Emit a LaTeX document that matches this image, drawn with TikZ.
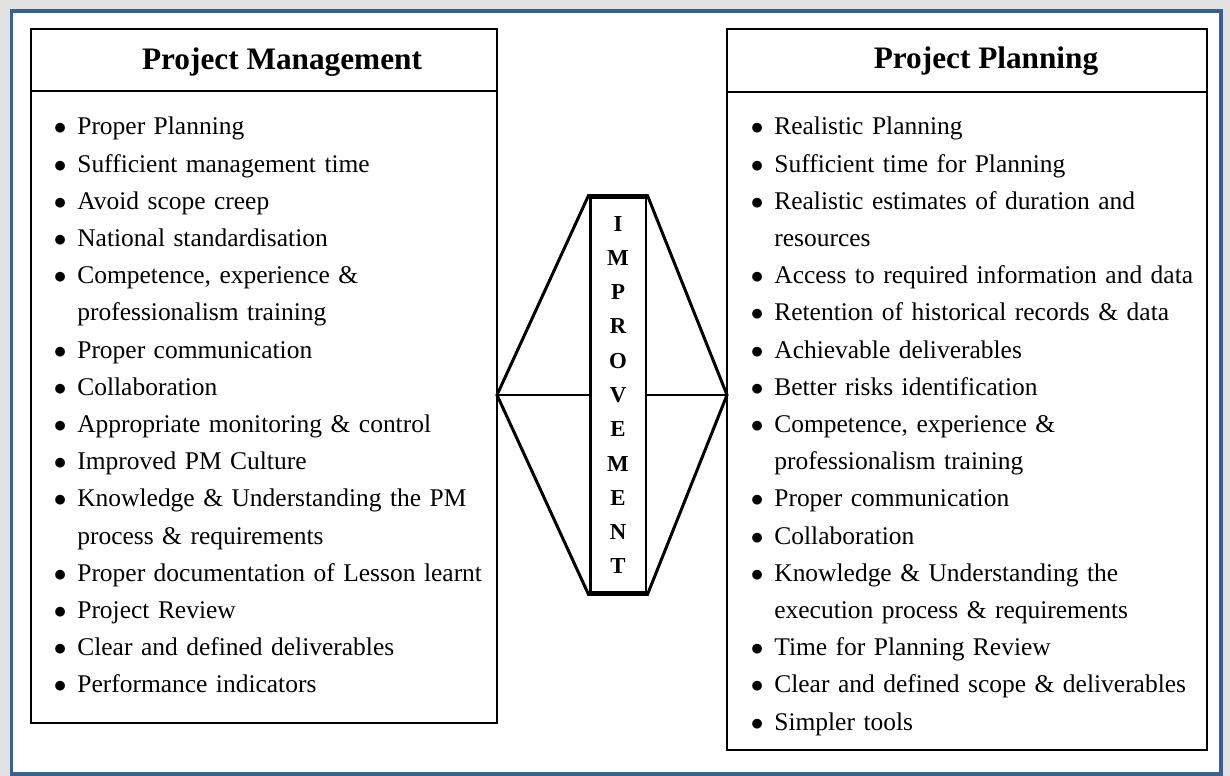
\documentclass[tikz,border=0pt]{standalone}
\usepackage{fontspec}
\setmainfont{Liberation Serif}
\usepackage{tikz}
\usetikzlibrary{positioning, calc}
\definecolor{FrameBlue}{HTML}{3C5F91}
\definecolor{ShadowGrey}{HTML}{E2E2E2}
\newcommand{\bul}{\makebox[0.47cm][l]{$\bullet$}}
\newcommand{\cont}{\hspace*{0.47cm}}
\tikzset{
    % Box styles
    listbox/.style={
        rectangle,
        draw=black,
        line width=0.9pt,
        inner sep=0pt
    },
    headtext/.style={
        inner sep=0pt,
        font=\bfseries\fontsize{17.8pt}{21pt}\selectfont
    },
    itemtext/.style={
        text width=9cm,
        align=left,
        inner sep=0pt,
        font=\fontsize{14.5pt}{21.17pt}\selectfont
    },
    wordbox/.style={
        rectangle,
        draw=black,
        line width=1.7pt,
        fill=white,
        minimum width=1.12cm,
        minimum height=7.92cm,
        align=center,
        inner sep=0pt,
        font=\bfseries\fontsize{13pt}{19.5pt}\selectfont
    },
    % Line style
    hexline/.style={
        draw=black,
        line width=1.7pt,
        line join=miter
    }
}

\begin{document}
\begin{tikzpicture}[x=0.02cm, y=-0.02cm]
    \useasboundingbox (0,0) rectangle (1230,776);
    % Frame
    \fill[ShadowGrey] (0,0) rectangle (1230,776);
    \draw[FrameBlue, line width=0.08cm, fill=white] (11.5,11) rectangle (1221,774);

    % Project Management
    \node[listbox, minimum width=9.32cm, minimum height=13.88cm] (pmbox) at (264,376) {};
    \node[listbox, minimum width=9.32cm, minimum height=1.24cm] (pmhead) at (264,60) {};
    \node[headtext, anchor=base] (pmtitle) at (282,70) {Project Management};
    \node[itemtext, anchor=base west] (pmlist) at (53.5,135) {
        \bul Proper Planning\\
        \bul Sufficient management time\\
        \bul Avoid scope creep\\
        \bul National standardisation\\
        \bul Competence, experience \&\\
        \cont professionalism training\\
        \bul Proper communication\\
        \bul Collaboration\\
        \bul Appropriate monitoring \& control\\
        \bul Improved PM Culture\\
        \bul Knowledge \& Understanding the PM\\
        \cont process \& requirements\\
        \bul Proper documentation of Lesson learnt\\
        \bul Project Review\\
        \bul Clear and defined deliverables\\
        \bul Performance indicators
    };

    % Project Planning
    \node[listbox, minimum width=9.6cm, minimum height=14.42cm] (ppbox) at (967,389.5) {};
    \node[listbox, minimum width=9.6cm, minimum height=1.26cm] (pphead) at (967,60.5) {};
    \node[headtext, anchor=base] (pptitle) at (986,69) {Project Planning};
    \node[itemtext, anchor=base west] (pplist) at (750.5,135) {
        \bul Realistic Planning\\
        \bul Sufficient time for Planning\\
        \bul Realistic estimates of duration and\\
        \cont resources\\
        \bul Access to required information and data\\
        \bul Retention of historical records \& data\\
        \bul Achievable deliverables\\
        \bul Better risks identification\\
        \bul Competence, experience \&\\
        \cont professionalism training\\
        \bul Proper communication\\
        \bul Collaboration\\
        \bul Knowledge \& Understanding the\\
        \cont execution process \& requirements\\
        \bul Time for Planning Review\\
        \bul Clear and defined scope \& deliverables\\
        \bul Simpler tools
    };

    % Improvement hexagon
    \coordinate (lpt) at (497,395);
    \coordinate (rpt) at (727,395);
    \node[wordbox] (imp) at (618,395) {I\\M\\P\\R\\O\\V\\E\\M\\E\\N\\T};
    \draw[hexline] (lpt) -- (imp.north west) -- (imp.north east) -- (rpt) -- (imp.south east) -- (imp.south west) -- cycle;
    \draw[hexline] (lpt) -- (imp.west);
    \draw[hexline] (imp.east) -- (rpt);
\end{tikzpicture}
\end{document}
